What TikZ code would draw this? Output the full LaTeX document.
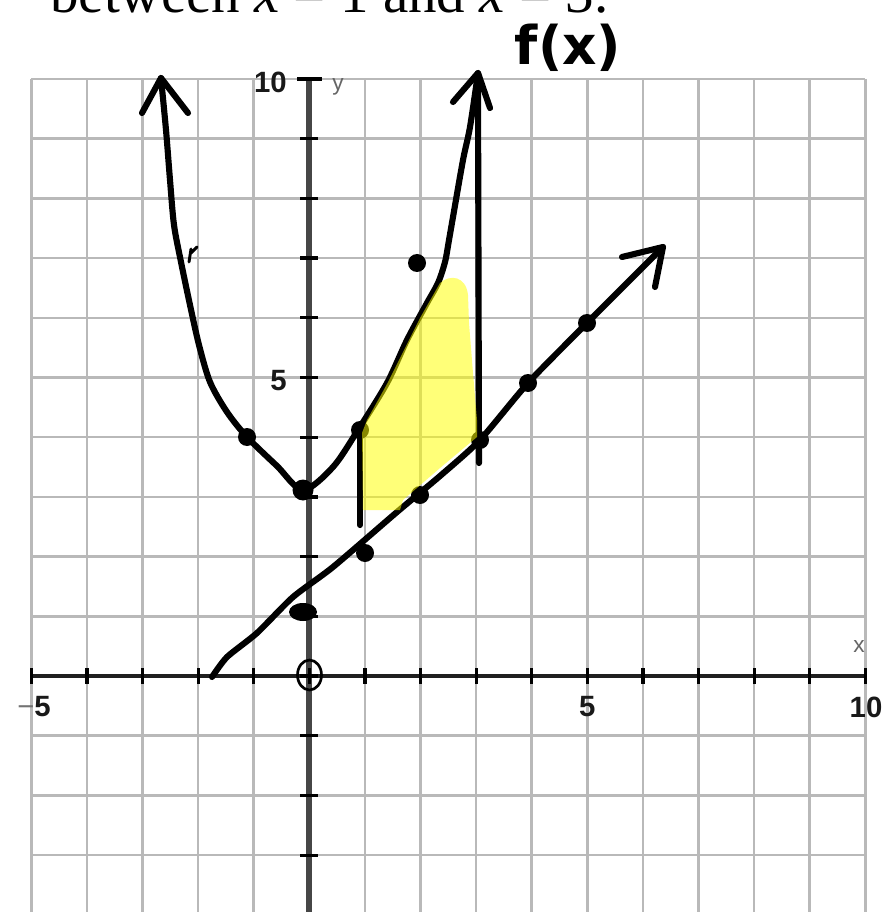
\documentclass[tikz,border=0pt]{standalone}
\usepackage{fontspec}
\setmainfont{Liberation Serif}
\newfontfamily\labfont{Liberation Sans}
\newfontfamily\handfont{DejaVu Sans}
\definecolor{gridgray}{RGB}{185,185,185}
\definecolor{axgray}{RGB}{70,70,70}
\definecolor{hilite}{RGB}{255,255,0}
\begin{document}
\begin{tikzpicture}[x=0.75pt,y=-0.75pt,
  gridline/.style={draw=gridgray,line width=1.9pt},
  xaxis/.style={draw=black!88,line width=3.4pt},
  yaxis/.style={draw=axgray,line width=4.5pt},
  tickmark/.style={draw=black,line width=2.4pt},
  hand/.style={draw=black,line width=4.6pt,line cap=round,line join=round},
  numlbl/.style={font=\labfont\bfseries\fontsize{22}{22}\selectfont,text=black!90,inner sep=0pt},
  axlbl/.style={font=\labfont\fontsize{17}{17}\selectfont,text=black!60,inner sep=0pt},
]
\useasboundingbox (0,0) rectangle (886,912);
\clip (0,0) rectangle (886,912);
\fill[white] (0,0) rectangle (886,912);

% grid
\foreach \i in {-5,...,10} \draw[gridline] ({309.3+55.6*\i},79) -- ({309.3+55.6*\i},912);
\foreach \j in {-4,...,10} \draw[gridline] (31.3,{676-59.7*\j}) -- (865.3,{676-59.7*\j});

% axes
\draw[yaxis] (309.3,79) -- (309.3,912);
\draw[xaxis] (31.3,676) -- (866,676);
\foreach \j in {-4,...,9} \draw[tickmark] (300,{676-59.7*\j}) -- (318,{676-59.7*\j});
\draw[tickmark] (297,79) -- (322,79);
\foreach \i in {-5,...,10} \draw[tickmark] ({309.3+55.6*\i},668) -- ({309.3+55.6*\i},684);

% labels
\node[numlbl,anchor=east] (l10) at (287,82) {10};
\node[numlbl,anchor=east] (l5) at (287,381) {5};
\node[numlbl,anchor=east] (lm5) at (51,707) {{\mdseries\color{black!55}−}5};
\node[numlbl] (lp5) at (587.3,707) {5};
\node[numlbl] (lp10) at (866,707) {10};
\node[axlbl] (ylab) at (338,87) {y};
\node[axlbl] (xlab) at (859,647) {x};

% title (cut at top)
\node[anchor=base west,inner sep=0pt,font=\fontsize{42.75}{50}\selectfont] (title) at (50,13) {between \textit{x} = 1 and \textit{x} = 3.};

% handwritten f(x)
\node[font=\handfont\bfseries\fontsize{40}{40}\selectfont,inner sep=0pt] (fx) at (568,48) {f(x)};

% curve f
\draw[hand] plot[smooth,tension=0.5] coordinates {(161,78) (166,130) (170,180) (174,225) (181,262) (190,305) (199,345) (210,382) (227,412) (247,437) (277,466) (303,490) (333,467) (358,430) (387,383) (407,340) (427,303) (438,283) (445,262) (449,240) (453,217) (463,160) (470,127) (478,73)};
\coordinate (tipL) at (161,78);
\coordinate (tipR) at (478,73);
\draw[hand] (142,113) -- (tipL) -- (188,113);
\draw[hand] (453,102) -- (tipR) -- (490,108);
\draw[line width=2.2pt,line cap=round] (189,262) -- (191,249) (191,253) -- (197,247);

% vertical bounds
\draw[hand] (478,88) -- (479,463);
\draw[hand] (360,428) -- (360,525);

% line g
\draw[hand] plot[smooth,tension=0.4] coordinates {(212,677) (227,657) (257,633) (293,597) (333,567) (397,512) (440,476) (480,440) (528,383) (587,323) (663,247)};
\coordinate (tipG) at (663,247);
\draw[hand] (622,257) -- (tipG) -- (655,287);

% dots
\foreach \p in {(247,437),(360,430),(417,263),(365,553),(420,495),(480,440),(528,383),(587,323)}
  \fill \p circle[radius=9];
\fill (303,490) circle[radius=10.5];
\fill (303,612) ellipse[x radius=14,y radius=9];

% origin circle
\draw[line width=2pt] (309.5,675) ellipse[x radius=12,y radius=15];

% highlight
\fill[hilite,fill opacity=0.53] (363,510) -- (362,433) -- (367,420) -- (387,384) -- (420,318) -- (440,283)
  .. controls (450,274) and (466,276) .. (468,295) -- (469,323) -- (473,373) -- (477,420) -- (477,437)
  -- (440,468) -- (403,500) -- (400,510) -- cycle;
\end{tikzpicture}
\end{document}
